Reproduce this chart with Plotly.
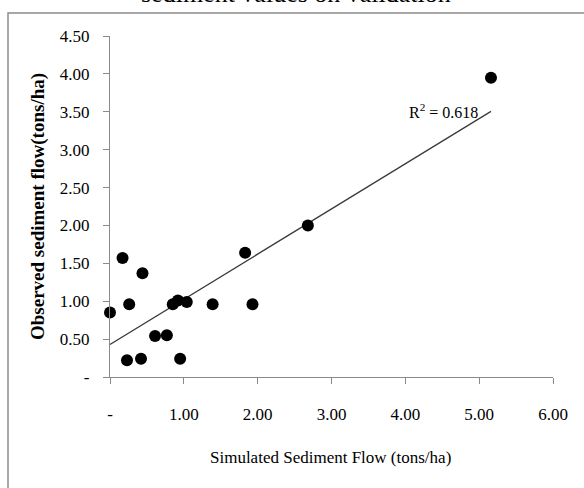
import numpy as np
import plotly.graph_objects as go

# Data
simulated = [0.00, 0.17, 0.26, 0.23, 0.44, 0.42, 0.61, 0.77, 0.85, 0.92, 0.95, 1.04, 1.39, 1.93, 1.83, 2.68, 5.16]
observed = [0.85, 1.57, 0.96, 0.22, 1.37, 0.24, 0.54, 0.55, 0.96, 1.01, 0.24, 0.99, 0.96, 0.96, 1.64, 2.00, 3.95]
r2_text = "R<sup>2</sup> = 0.618"

x_tickvals = [0, 1, 2, 3, 4, 5, 6]
x_ticktext = ["-", "1.00", "2.00", "3.00", "4.00", "5.00", "6.00"]
y_tickvals = [0, 0.5, 1, 1.5, 2, 2.5, 3, 3.5, 4, 4.5]
y_ticktext = ["-", "0.50", "1.00", "1.50", "2.00", "2.50", "3.00", "3.50", "4.00", "4.50"]

title_text = "sediment values on validation"
x_title = "Simulated Sediment Flow (tons/ha)"
y_title = "<b>Observed sediment flow(tons/ha)</b>"

# Linear trendline over data range
slope, intercept = np.polyfit(simulated, observed, 1)
tx = [min(simulated), max(simulated)]
ty = [intercept + slope * v for v in tx]

SERIF = "Liberation Serif, Times New Roman, serif"
AX = "#8a8a8a"

fig = go.Figure()
fig.add_trace(go.Scatter(x=tx, y=ty, mode="lines",
                         line=dict(color="#3a3a3a", width=1.3),
                         hoverinfo="skip", showlegend=False, cliponaxis=False))
fig.add_trace(go.Scatter(x=simulated, y=observed, mode="markers",
                         marker=dict(color="black", size=12, line=dict(width=0)),
                         showlegend=False, cliponaxis=False))

W, H = 584, 488
L, R, T, B = 110, 31, 36, 111
pw, ph = W - L - R, H - T - B

def px(x):
    return (x - L) / pw

def py(y):
    return (H - B - y) / ph

fig.update_layout(
    width=W, height=H,
    margin=dict(l=L, r=R, t=T, b=B, pad=0),
    paper_bgcolor="white", plot_bgcolor="white",
    font=dict(family=SERIF, color="black"),
    xaxis=dict(range=[0, 6], tickvals=x_tickvals, ticktext=x_ticktext,
               showline=True, linecolor=AX, linewidth=1.2,
               ticks="outside", ticklen=6, tickcolor=AX, tickwidth=1,
               showgrid=False, zeroline=False, ticklabelstandoff=15,
               tickfont=dict(size=17, family=SERIF, color="black")),
    yaxis=dict(range=[0, 4.5], tickvals=y_tickvals, ticktext=y_ticktext,
               showline=True, linecolor=AX, linewidth=1.2,
               ticks="outside", ticklen=6, tickcolor=AX, tickwidth=1,
               showgrid=False, zeroline=False, ticklabelstandoff=10,
               tickfont=dict(size=17, family=SERIF, color="black")),
    shapes=[dict(type="rect", xref="paper", yref="paper",
                 x0=px(8), x1=px(600), y0=py(13), y1=py(500),
                 line=dict(color="#8c8c8c", width=1.5), fillcolor="rgba(0,0,0,0)",
                 layer="below")],
    annotations=[
        dict(text=title_text, xref="paper", yref="paper", x=px(296), y=py(9.5),
             xanchor="center", yanchor="bottom", showarrow=False,
             font=dict(size=26, family=SERIF, color="black")),
        dict(text=x_title, xref="paper", yref="paper", x=px(330), y=py(457),
             xanchor="center", yanchor="middle", showarrow=False,
             font=dict(size=17, family=SERIF, color="black")),
        dict(text=y_title, xref="paper", yref="paper", x=px(38), y=py(207),
             xanchor="center", yanchor="middle", showarrow=False, textangle=-90,
             font=dict(size=19, family=SERIF, color="black")),
        dict(text=r2_text, xref="paper", yref="paper", x=px(443), y=py(111),
             xanchor="center", yanchor="middle", showarrow=False,
             font=dict(size=16, family=SERIF, color="black")),
    ],
)

fig.write_html("out.html")
